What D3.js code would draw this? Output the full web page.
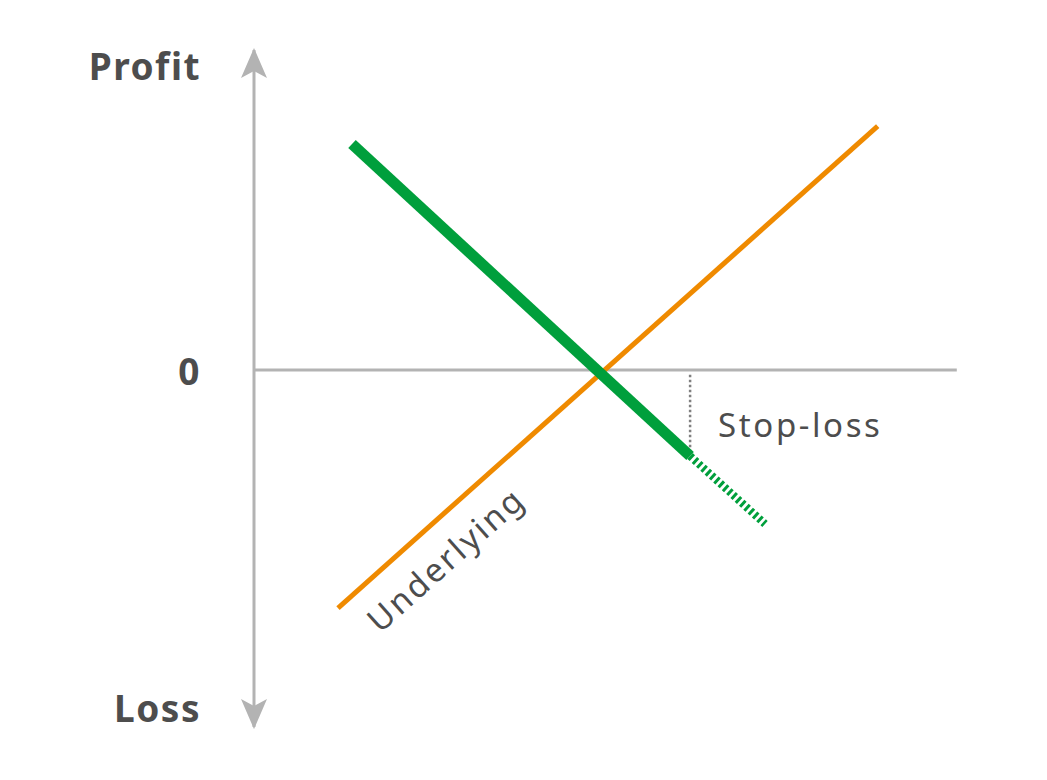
<!DOCTYPE html>
<html>
<head>
<meta charset="utf-8">
<script src="https://cdn.jsdelivr.net/npm/d3@7"></script>
<style>
  body { margin: 0; background: #fff; }
  text { font-family: "Noto Sans", "Open Sans", sans-serif; }
</style>
</head>
<body>
<div id="chart"></div>
<script>
'use strict';

// price (x) against profit/loss (y), arbitrary units
const underlying = [{ x: 12, y: -74.4 }, { x: 89.1, y: 76.2 }];
const shortPosition = [{ x: 14, y: 70.6 }, { x: 62.3, y: -26.9 }];
const cutOff = [{ x: 62.3, y: -26.9 }, { x: 73, y: -48.1 }];
const stopLossPrice = 62.3;
const axisLabels = ['Profit', '0', 'Loss'];

const width = 1047, height = 780;

const x = d3.scaleLinear().domain([0, 100]).range([254, 954]);
const y = d3.scaleLinear().domain([-100, 100]).range([690, 50]);

const svg = d3.select('#chart').append('svg')
    .attr('width', width)
    .attr('height', height);

const defs = svg.append('defs');
defs.append('marker')
    .attr('id', 'arrow')
    .attr('viewBox', '0 0 30 26')
    .attr('refX', 28)
    .attr('refY', 13)
    .attr('markerWidth', 30)
    .attr('markerHeight', 26)
    .attr('markerUnits', 'userSpaceOnUse')
    .attr('orient', 'auto-start-reverse')
  .append('path')
    .attr('d', 'M0,0 L30,13 L0,26 L7,13 Z')
    .style('fill', '#b3b3b3');

const line = d3.line().x(d => x(d.x)).y(d => y(d.y));

// axes
svg.append('line')
    .attr('x1', x(0)).attr('x2', x(0))
    .attr('y1', y(-111.6)).attr('y2', y(100))
    .attr('marker-start', 'url(#arrow)')
    .attr('marker-end', 'url(#arrow)')
    .style('stroke', '#b3b3b3')
    .style('stroke-width', 3);

svg.append('line')
    .attr('x1', x(0)).attr('x2', x(100.4))
    .attr('y1', y(0)).attr('y2', y(0))
    .style('stroke', '#b3b3b3')
    .style('stroke-width', 3);

// stop-loss marker
svg.append('line')
    .attr('x1', x(stopLossPrice)).attr('x2', x(stopLossPrice))
    .attr('y1', y(-1.5)).attr('y2', y(-25))
    .style('stroke', '#808080')
    .style('stroke-width', 2.5)
    .style('stroke-dasharray', '2.5 2.5');

svg.append('path')
    .datum(underlying)
    .attr('d', line)
    .style('fill', 'none')
    .style('stroke', '#ef8a00')
    .style('stroke-width', 5);

svg.append('path')
    .datum(shortPosition)
    .attr('d', line)
    .style('fill', 'none')
    .style('stroke', '#009f3c')
    .style('stroke-width', 11);

svg.append('path')
    .datum(cutOff)
    .attr('d', line)
    .style('fill', 'none')
    .style('stroke', '#009f3c')
    .style('stroke-width', 8)
    .style('stroke-dasharray', '3 2.8');

// labels
const labelPos = [y(100) + 30, y(0) + 15, y(-100) + 32];
svg.selectAll('.axis-label')
    .data(axisLabels)
  .enter().append('text')
    .attr('class', 'axis-label')
    .attr('x', 201)
    .attr('y', (d, i) => labelPos[i])
    .attr('text-anchor', 'end')
    .style('font-size', '37px')
    .style('font-weight', 700)
    .style('letter-spacing', '1.5px')
    .style('fill', '#4d4d4d')
    .text(d => d);

svg.append('text')
    .attr('x', x(stopLossPrice) + 28)
    .attr('y', 437)
    .style('font-size', '33px')
    .style('letter-spacing', '2.6px')
    .style('fill', '#4d4d4d')
    .text('Stop-loss');

const angle = Math.atan2(y(underlying[1].y) - y(underlying[0].y), x(underlying[1].x) - x(underlying[0].x)) * 180 / Math.PI;
svg.append('text')
    .attr('transform', `translate(380, 634) rotate(${angle})`)
    .style('font-size', '33px')
    .style('letter-spacing', '2.6px')
    .style('fill', '#4d4d4d')
    .text('Underlying');
</script>
</body>
</html>
